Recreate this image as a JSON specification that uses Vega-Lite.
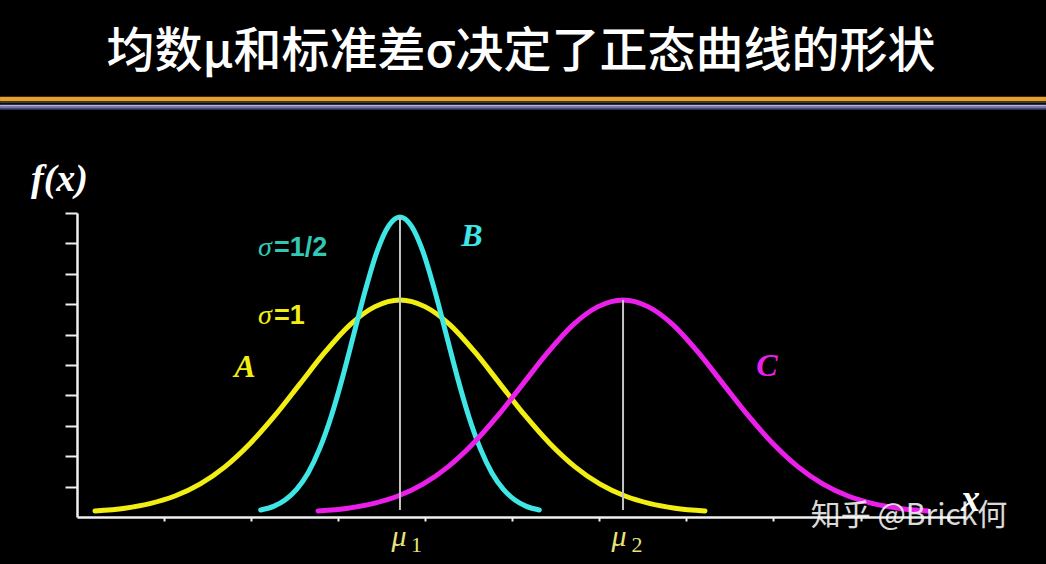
{
  "$schema": "https://vega.github.io/schema/vega-lite/v6.json",
  "width": 888,
  "height": 304,
  "autosize": {"type": "none"},
  "padding": {"left": 77, "top": 213, "right": 81, "bottom": 47},
  "background": "#000000",
  "config": {"view": {"stroke": null}},
  "title": {
    "text": "均数μ和标准差σ决定了正态曲线的形状",
    "color": "#ffffff",
    "font": "Noto Sans CJK SC",
    "fontSize": 48,
    "fontWeight": 500,
    "anchor": "middle",
    "frame": "group",
    "baseline": "middle",
    "offset": -4
  },
  "datasets": {
    "bands": [
      {"band": "orange", "x0": -0.884, "x1": 11.13, "y0": 13.674, "y1": 13.826},
      {"band": "olive", "x0": -0.884, "x1": 11.13, "y0": 13.609, "y1": 13.674},
      {"band": "lavender", "x0": -0.884, "x1": 11.13, "y0": 13.497, "y1": 13.563},
      {"band": "blue", "x0": -0.884, "x1": 11.13, "y0": 13.431, "y1": 13.497},
      {"band": "navy", "x0": -0.884, "x1": 11.13, "y0": 13.388, "y1": 13.431}
    ],
    "curves": [
      {"tone": "A", "x": 0.206, "y": 0.20},
      {"tone": "A", "x": 0.550, "y": 0.29},
      {"tone": "A", "x": 0.837, "y": 0.44},
      {"tone": "A", "x": 1.125, "y": 0.69},
      {"tone": "A", "x": 1.412, "y": 1.08},
      {"tone": "A", "x": 1.699, "y": 1.65},
      {"tone": "A", "x": 1.986, "y": 2.41},
      {"tone": "A", "x": 2.274, "y": 3.34},
      {"tone": "A", "x": 2.561, "y": 4.38},
      {"tone": "A", "x": 2.848, "y": 5.42},
      {"tone": "A", "x": 3.135, "y": 6.32},
      {"tone": "A", "x": 3.423, "y": 6.92},
      {"tone": "A", "x": 3.710, "y": 7.14},
      {"tone": "A", "x": 3.997, "y": 6.92},
      {"tone": "A", "x": 4.285, "y": 6.32},
      {"tone": "A", "x": 4.572, "y": 5.42},
      {"tone": "A", "x": 4.859, "y": 4.38},
      {"tone": "A", "x": 5.146, "y": 3.34},
      {"tone": "A", "x": 5.434, "y": 2.41},
      {"tone": "A", "x": 5.721, "y": 1.65},
      {"tone": "A", "x": 6.008, "y": 1.08},
      {"tone": "A", "x": 6.295, "y": 0.69},
      {"tone": "A", "x": 6.583, "y": 0.44},
      {"tone": "A", "x": 6.870, "y": 0.29},
      {"tone": "A", "x": 7.214, "y": 0.20},
      {"tone": "B", "x": 2.110, "y": 0.23},
      {"tone": "B", "x": 2.258, "y": 0.35},
      {"tone": "B", "x": 2.390, "y": 0.56},
      {"tone": "B", "x": 2.522, "y": 0.91},
      {"tone": "B", "x": 2.654, "y": 1.45},
      {"tone": "B", "x": 2.786, "y": 2.24},
      {"tone": "B", "x": 2.918, "y": 3.29},
      {"tone": "B", "x": 3.050, "y": 4.59},
      {"tone": "B", "x": 3.182, "y": 6.04},
      {"tone": "B", "x": 3.314, "y": 7.48},
      {"tone": "B", "x": 3.446, "y": 8.73},
      {"tone": "B", "x": 3.578, "y": 9.57},
      {"tone": "B", "x": 3.710, "y": 9.87},
      {"tone": "B", "x": 3.842, "y": 9.57},
      {"tone": "B", "x": 3.974, "y": 8.73},
      {"tone": "B", "x": 4.106, "y": 7.48},
      {"tone": "B", "x": 4.238, "y": 6.04},
      {"tone": "B", "x": 4.370, "y": 4.59},
      {"tone": "B", "x": 4.502, "y": 3.29},
      {"tone": "B", "x": 4.634, "y": 2.24},
      {"tone": "B", "x": 4.766, "y": 1.45},
      {"tone": "B", "x": 4.898, "y": 0.91},
      {"tone": "B", "x": 5.030, "y": 0.56},
      {"tone": "B", "x": 5.162, "y": 0.35},
      {"tone": "B", "x": 5.310, "y": 0.23},
      {"tone": "C", "x": 2.768, "y": 0.20},
      {"tone": "C", "x": 3.112, "y": 0.29},
      {"tone": "C", "x": 3.399, "y": 0.44},
      {"tone": "C", "x": 3.687, "y": 0.69},
      {"tone": "C", "x": 3.974, "y": 1.08},
      {"tone": "C", "x": 4.261, "y": 1.65},
      {"tone": "C", "x": 4.548, "y": 2.41},
      {"tone": "C", "x": 4.836, "y": 3.34},
      {"tone": "C", "x": 5.123, "y": 4.38},
      {"tone": "C", "x": 5.410, "y": 5.42},
      {"tone": "C", "x": 5.697, "y": 6.32},
      {"tone": "C", "x": 5.985, "y": 6.92},
      {"tone": "C", "x": 6.272, "y": 7.14},
      {"tone": "C", "x": 6.559, "y": 6.92},
      {"tone": "C", "x": 6.847, "y": 6.32},
      {"tone": "C", "x": 7.134, "y": 5.42},
      {"tone": "C", "x": 7.421, "y": 4.38},
      {"tone": "C", "x": 7.708, "y": 3.34},
      {"tone": "C", "x": 7.996, "y": 2.41},
      {"tone": "C", "x": 8.283, "y": 1.65},
      {"tone": "C", "x": 8.570, "y": 1.08},
      {"tone": "C", "x": 8.857, "y": 0.69},
      {"tone": "C", "x": 9.145, "y": 0.44},
      {"tone": "C", "x": 9.432, "y": 0.29},
      {"tone": "C", "x": 9.776, "y": 0.20}
    ],
    "means": [
      {"mean": "μ1", "x": 3.710, "y0": 0.23, "y1": 9.87},
      {"mean": "μ2", "x": 6.272, "y0": 0.23, "y1": 7.14}
    ],
    "labels": [
      {"kind": "letter", "tone": "A", "text": "A", "x": 1.93, "y": 4.93},
      {"kind": "letter", "tone": "B", "text": "B", "x": 4.537, "y": 9.24},
      {"kind": "letter", "tone": "C", "text": "C", "x": 7.926, "y": 4.97},
      {"kind": "sigma", "tone": "half", "text": "σ", "x": 2.159, "y": 8.85},
      {"kind": "sigma", "tone": "one", "text": "σ", "x": 2.159, "y": 6.61},
      {"kind": "value", "tone": "half", "text": "=1/2", "x": 2.263, "y": 8.85},
      {"kind": "value", "tone": "one", "text": "=1", "x": 2.263, "y": 6.61},
      {"kind": "mu", "tone": "mu", "text": "μ", "x": 3.699, "y": -0.954},
      {"kind": "mu", "tone": "mu", "text": "μ", "x": 6.226, "y": -0.954},
      {"kind": "sub", "tone": "mu", "text": "1", "x": 3.900, "y": -1.151},
      {"kind": "sub", "tone": "mu", "text": "2", "x": 6.432, "y": -1.151},
      {"kind": "mark", "tone": "mark", "text": "知乎 @Brick何", "x": 9.557, "y": 0.03}
    ]
  },
  "encoding": {
    "x": {
      "type": "quantitative",
      "scale": {"domain": [0, 10.2], "nice": false, "zero": false},
      "axis": {
        "title": "x",
        "titleFont": "Liberation Serif",
        "titleFontStyle": "italic",
        "titleFontWeight": "bold",
        "titleFontSize": 38,
        "titleColor": "#ffffff",
        "titleX": 893,
        "titleY": -18,
        "titleAlign": "center",
        "titleBaseline": "middle",
        "values": [1, 2, 3, 4, 5, 6, 7, 8, 9, 10],
        "labels": false,
        "grid": false,
        "domainColor": "#f0f0f0",
        "domainWidth": 2.5,
        "tickColor": "#f0f0f0",
        "tickWidth": 2,
        "tickSize": 4
      }
    },
    "y": {
      "type": "quantitative",
      "scale": {"domain": [0, 10], "nice": false, "zero": false},
      "axis": {
        "title": "f(x)",
        "titleFont": "Liberation Serif",
        "titleFontStyle": "italic",
        "titleFontWeight": "bold",
        "titleFontSize": 38,
        "titleColor": "#ffffff",
        "titleAngle": 0,
        "titleX": -18,
        "titleY": -34,
        "titleAlign": "center",
        "titleBaseline": "middle",
        "values": [1, 2, 3, 4, 5, 6, 7, 8, 9, 10],
        "labels": false,
        "grid": false,
        "domainColor": "#f0f0f0",
        "domainWidth": 2.5,
        "tickColor": "#f0f0f0",
        "tickWidth": 2,
        "tickSize": 12
      }
    }
  },
  "layer": [
    {
      "data": {"name": "bands"},
      "mark": {"type": "rect"},
      "encoding": {
        "x": {"field": "x0"},
        "x2": {"field": "x1"},
        "y": {"field": "y0"},
        "y2": {"field": "y1"},
        "color": {
          "field": "band",
          "type": "nominal",
          "scale": {
            "domain": ["orange", "olive", "lavender", "blue", "navy"],
            "range": ["#e9a12e", "#34402c", "#c4acdc", "#6a74b4", "#27304e"]
          },
          "legend": null
        }
      }
    },
    {
      "data": {"name": "curves"},
      "mark": {"type": "line", "interpolate": "monotone", "strokeWidth": 5, "strokeCap": "round"},
      "encoding": {
        "x": {"field": "x"},
        "y": {"field": "y"},
        "color": {
          "field": "tone",
          "type": "nominal",
          "scale": {
            "domain": ["A", "B", "C"],
            "range": ["#f2ee14", "#3ee6e6", "#ea20ea"]
          },
          "legend": null
        }
      }
    },
    {
      "data": {"name": "means"},
      "mark": {"type": "rule", "color": "#c4c4c4", "strokeWidth": 2},
      "encoding": {
        "x": {"field": "x"},
        "y": {"field": "y0"},
        "y2": {"field": "y1"}
      }
    },
    {
      "data": {"name": "labels"},
      "transform": [{"filter": "datum.kind == 'letter'"}],
      "mark": {"type": "text", "font": "Liberation Serif", "fontStyle": "italic", "fontWeight": "bold", "fontSize": 32, "align": "center", "baseline": "middle"},
      "encoding": {
        "x": {"field": "x"},
        "y": {"field": "y"},
        "text": {"field": "text"},
        "color": {
          "field": "tone",
          "type": "nominal",
          "scale": {"domain": ["A", "B", "C"], "range": ["#f2ee14", "#3ee6e6", "#ea20ea"]},
          "legend": null
        }
      }
    },
    {
      "data": {"name": "labels"},
      "transform": [{"filter": "datum.kind == 'sigma'"}],
      "mark": {"type": "text", "font": "Liberation Serif", "fontStyle": "italic", "fontSize": 28, "align": "center", "baseline": "middle"},
      "encoding": {
        "x": {"field": "x"},
        "y": {"field": "y"},
        "text": {"field": "text"},
        "color": {
          "field": "tone",
          "type": "nominal",
          "scale": {"domain": ["half", "one"], "range": ["#33c8b4", "#f2ee14"]},
          "legend": null
        }
      }
    },
    {
      "data": {"name": "labels"},
      "transform": [{"filter": "datum.kind == 'value'"}],
      "mark": {"type": "text", "font": "Liberation Sans", "fontWeight": "bold", "fontSize": 27, "align": "left", "baseline": "middle"},
      "encoding": {
        "x": {"field": "x"},
        "y": {"field": "y"},
        "text": {"field": "text"},
        "color": {
          "field": "tone",
          "type": "nominal",
          "scale": {"domain": ["half", "one"], "range": ["#33c8b4", "#f2ee14"]},
          "legend": null
        }
      }
    },
    {
      "data": {"name": "labels"},
      "transform": [{"filter": "datum.kind == 'mu'"}],
      "mark": {"type": "text", "font": "Liberation Serif", "fontStyle": "italic", "fontSize": 30, "align": "center", "baseline": "alphabetic", "color": "#e8e27a"},
      "encoding": {
        "x": {"field": "x"},
        "y": {"field": "y"},
        "text": {"field": "text"}
      }
    },
    {
      "data": {"name": "labels"},
      "transform": [{"filter": "datum.kind == 'sub'"}],
      "mark": {"type": "text", "font": "Liberation Serif", "fontSize": 22, "align": "center", "baseline": "alphabetic", "color": "#e8e27a"},
      "encoding": {
        "x": {"field": "x"},
        "y": {"field": "y"},
        "text": {"field": "text"}
      }
    },
    {
      "data": {"name": "labels"},
      "transform": [{"filter": "datum.kind == 'mark'"}],
      "mark": {"type": "text", "font": "Noto Sans CJK SC", "fontSize": 30, "align": "center", "baseline": "middle", "color": "#ffffff", "opacity": 0.85},
      "encoding": {
        "x": {"field": "x"},
        "y": {"field": "y"},
        "text": {"field": "text"}
      }
    }
  ],
  "resolve": {"scale": {"color": "independent"}}
}
